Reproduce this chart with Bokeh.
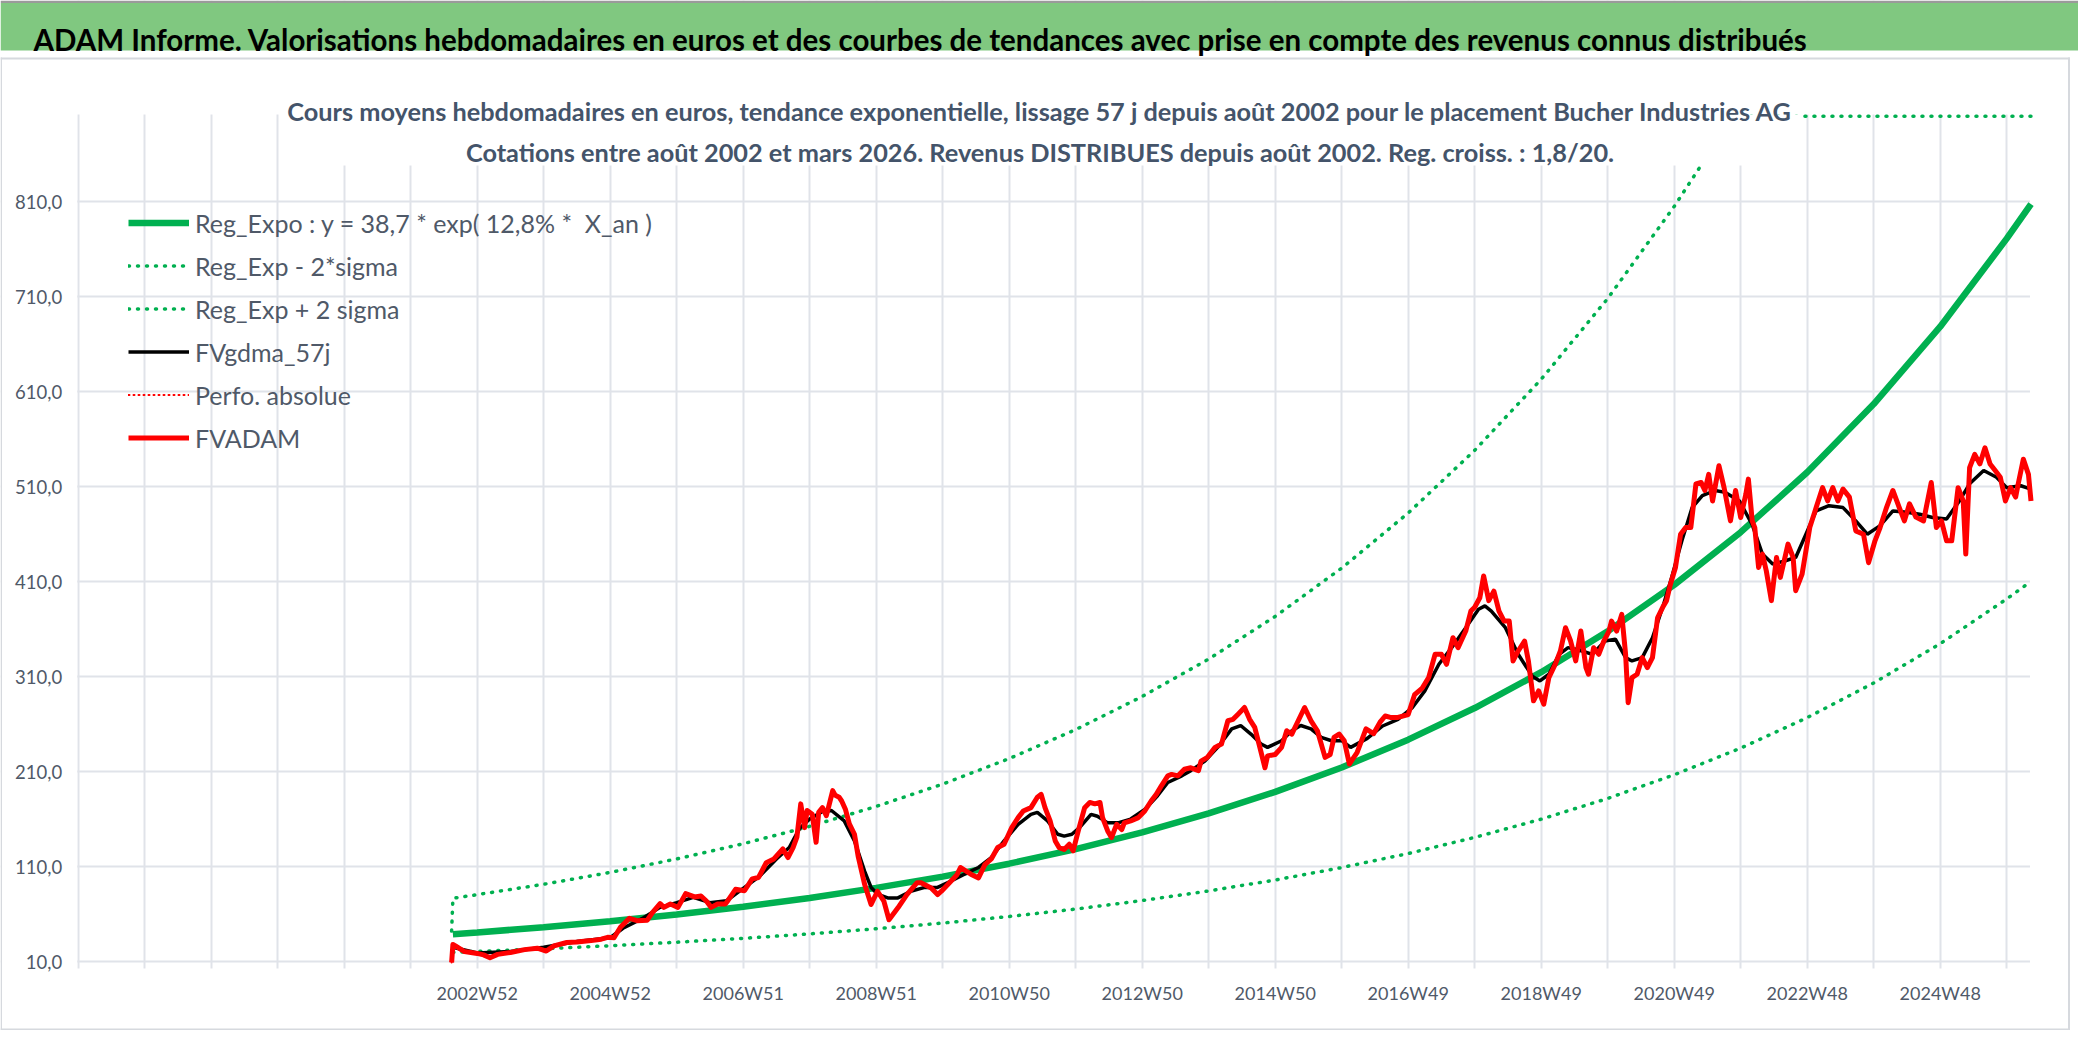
from bokeh.plotting import figure
from bokeh.models import Range1d, FixedTicker, Legend, LegendItem, Label, BoxAnnotation
from bokeh.core.properties import value
from bokeh.embed import file_html
from bokeh.resources import INLINE

# ---------------- texts ----------------
title_text = ("ADAM Informe. Valorisations hebdomadaires en euros et des courbes de tendances "
              "avec prise en compte des revenus connus distribués")
subtitle_1 = ("Cours moyens hebdomadaires en euros, tendance exponentielle, lissage 57 j depuis "
              "août 2002 pour le placement Bucher Industries AG")
subtitle_2 = ("Cotations entre août 2002 et mars 2026. Revenus DISTRIBUES depuis août 2002. "
              "Reg. croiss. : 1,8/20.")
legend_names = ["Reg_Expo : y = 38,7 * exp( 12,8% *  X_an )", "Reg_Exp - 2*sigma",
                "Reg_Exp + 2 sigma", "FVgdma_57j", "Perfo. absolue", "FVADAM"]

# ---------------- axis categories (week index of the category axis) ----------------
grid_weeks = list(range(0, 1509, 52))
label_weeks = [312, 416, 520, 624, 728, 832, 936, 1040, 1144, 1248, 1352, 1456]
week_labels = ["2002W52", "2004W52", "2006W51", "2008W51", "2010W50", "2012W50",
               "2014W50", "2016W49", "2018W49", "2020W49", "2022W48", "2024W48"]
y_ticks = [10, 110, 210, 310, 410, 510, 610, 710, 810]
y_tick_labels = ["10,0", "110,0", "210,0", "310,0", "410,0", "510,0", "610,0", "710,0", "810,0"]

# ---------------- series ----------------
trend_week = [293, 312, 364, 416, 468, 520, 572, 624, 676, 728, 780, 832, 884, 936, 988,
              1040, 1092, 1144, 1196, 1248, 1300, 1352, 1404, 1456, 1508, 1527]
trend_val = [38.7, 40.6, 46.1, 52.4, 59.6, 67.7, 76.9, 87.5, 99.4, 113.0, 128.4, 146.0, 165.9,
             188.6, 214.3, 243.6, 276.9, 314.7, 357.7, 406.6, 462.1, 525.2, 597.0, 678.5,
             771.2, 807.6]

lower_week = [293, 312, 364, 416, 468, 520, 572, 624, 676, 728, 780, 832, 884, 936, 988,
              1040, 1092, 1144, 1196, 1248, 1300, 1352, 1404, 1456, 1508, 1527]
lower_val = [19.7, 20.6, 23.4, 26.6, 30.3, 34.4, 39.1, 44.5, 50.5, 57.4, 65.2, 74.2, 84.3,
             95.8, 108.9, 123.7, 140.7, 159.9, 181.7, 206.6, 234.7, 266.8, 303.3, 344.7,
             391.8, 410.3]

upper_week = [292, 293, 312, 364, 416, 468, 520, 572, 624, 676, 728, 780, 832, 884, 936, 988,
              1040, 1092, 1144, 1196, 1248, 1294, 1300, 1352, 1404, 1456, 1508, 1527]
upper_val = [42, 76.6, 80.4, 91.3, 103.8, 118.0, 134.0, 152.3, 173.3, 196.8, 223.7, 254.2,
             289.1, 328.5, 373.4, 424.3, 482.3, 548.3, 623.1, 708.2, 805.1, 900, 900, 900,
             900, 900, 900, 900]

gdma_week = [293, 312, 338, 364, 390, 416, 426, 442, 455, 468, 481, 494, 507, 520, 533, 546,
             556, 564, 572, 582, 589, 599, 607, 615, 620, 625, 633, 641, 651, 662, 672, 683,
             693, 704, 714, 724, 735, 745, 750, 758, 766, 771, 777, 783, 792, 797, 805, 813,
             823, 834, 844, 852, 863, 870, 881, 891, 902, 909, 917, 925, 930, 941, 949, 956,
             964, 972, 980, 988, 995, 1008, 1020, 1032, 1043, 1053, 1064, 1074, 1085, 1095,
             1100, 1105, 1116, 1126, 1137, 1143, 1150, 1158, 1165, 1176, 1184, 1194, 1202,
             1210, 1215, 1223, 1231, 1239, 1246, 1254, 1262, 1270, 1280, 1288, 1299, 1309,
             1317, 1325, 1335, 1343, 1351, 1359, 1369, 1380, 1390, 1399, 1409, 1419, 1430,
             1440, 1450, 1461, 1471, 1479, 1490, 1500, 1508, 1519, 1527]
gdma_val = [25, 19, 20.5, 25, 31, 35, 45, 56, 67, 72, 77.5, 72, 74, 87, 100, 118,
            130, 150, 160, 168, 169, 158, 137, 105, 88, 81, 77, 77, 84, 88, 88, 95,
            102, 109, 119.5, 137, 154.5, 165, 167, 158, 144, 142, 144, 151, 165, 163, 156, 156,
            160, 170, 184.5, 198.5, 205.5, 211, 221, 235.5, 255, 258.5, 249.5, 239, 235.5, 242.5,
            253, 258.5, 255, 246, 242.5, 242.5, 235.5, 245, 258, 265, 277, 295, 323, 340.5,
            361.5, 381, 384.5, 379, 361.5, 333.5, 310.5, 305.5, 312.5, 333.5, 340.5, 337, 333.5,
            347.5, 349.5, 330, 326.5, 330, 351, 383, 414.5, 453, 488, 500.5, 506, 504, 495,
            470, 439, 428.5, 432, 435.5, 460, 484.5, 490, 488, 474, 460, 469, 484.5, 483, 481,
            477.5, 476, 495, 513, 527, 520, 509, 511, 507.5]

fv_week = [292, 293, 295, 302, 312, 317, 322, 328, 338, 349, 359, 366, 372, 382, 390, 401,
           409, 414, 419, 424, 431, 437, 445, 449, 455, 458, 463, 469, 475, 482, 487, 491,
           495, 500, 506, 508, 514, 521, 527, 532, 538, 544, 551, 555, 559, 562, 565, 568,
           570, 574, 577, 579, 582, 585, 587, 590, 592, 595, 597, 600, 603, 607, 610, 615,
           620, 625, 630, 634, 641, 648, 656, 659, 667, 672, 675, 680, 687, 690, 698, 704,
           709, 714, 719, 724, 730, 735, 739, 745, 750, 753, 756, 760, 764, 767, 771, 775,
           778, 782, 787, 791, 795, 799, 801, 805, 808, 812, 816, 818, 823, 829, 834, 839,
           843, 847, 852, 855, 860, 865, 870, 876, 878, 883, 889, 894, 899, 903, 907, 912,
           916, 920, 924, 928, 930, 936, 941, 945, 949, 954, 959, 964, 969, 975, 979, 982,
           986, 990, 994, 1000, 1007, 1013, 1018, 1022, 1026, 1032, 1040, 1045, 1051, 1056,
           1061, 1066, 1070, 1075, 1079, 1085, 1089, 1092, 1096, 1099, 1103, 1107, 1111, 1115,
           1119, 1122, 1126, 1131, 1134, 1138, 1142, 1146, 1150, 1155, 1159, 1163, 1167, 1171,
           1175, 1179, 1181, 1185, 1189, 1193, 1197, 1199, 1203, 1207, 1210, 1212, 1215, 1219,
           1223, 1227, 1231, 1235, 1239, 1242, 1245, 1249, 1253, 1257, 1261, 1265, 1269, 1272,
           1275, 1278, 1283, 1287, 1292, 1296, 1300, 1304, 1306, 1309, 1311, 1314, 1317, 1320,
           1324, 1328, 1331, 1337, 1341, 1343, 1348, 1354, 1359, 1364, 1368, 1372, 1376, 1380,
           1385, 1390, 1396, 1400, 1405, 1409, 1414, 1419, 1424, 1428, 1432, 1437, 1443, 1449,
           1453, 1457, 1461, 1465, 1470, 1474, 1476, 1479, 1483, 1487, 1491, 1495, 1499, 1503,
           1507, 1511, 1515, 1517, 1521, 1525, 1527]
fv_val = [9, 28, 26.5, 20.5, 18.5, 17, 14, 17.5, 19.5, 22.5, 24, 21, 26.5, 30, 30.5, 32,
          33.5, 35.5, 35, 46, 55.5, 53, 53.5, 61.5, 71, 67, 70.5, 67, 81.5, 78, 79, 74,
          67, 70.5, 70.5, 74, 86, 84.5, 97, 98.5, 114, 118, 128.5, 119.5, 130, 141, 176, 151,
          169, 165, 135.5, 167, 172, 163.5, 174, 190, 185, 183, 179, 170, 155, 144, 120, 91,
          70, 84, 73.5, 54, 66.5, 80.5, 93, 93, 87.5, 80.5, 84, 91, 101, 109, 102, 98,
          112, 118, 130, 133.5, 151, 161.5, 168.5, 172, 183, 186, 172, 158, 137, 130, 128, 133.5,
          126.5, 147.5, 172, 177.5, 176, 177.5, 161.5, 147.5, 140.5, 154.5, 149, 156, 158, 161.5, 168.5, 179,
          186, 195, 205.5, 207, 205.5, 212.5, 214, 211, 221, 225, 235.5, 239, 263.5, 265, 270.5, 277.5,
          265, 256.5, 235.5, 214, 226.5, 228, 235.5, 253, 249.5, 263.5, 277.5, 263.5, 253, 225, 228, 246,
          249.5, 242.5, 218, 230, 255, 250, 262, 268.5, 267, 267, 270, 291, 298, 309,
          333.5, 333.5, 323, 351, 340.5, 358, 379, 383, 393, 416, 390, 400, 379, 368.5,
          368.5, 326.5, 337, 347.5, 326.5, 284.5, 295, 281, 309, 323, 337, 361.5, 347.5, 326.5,
          358, 319.5, 312.5, 340.5, 333.5, 347.5, 358, 368.5, 358, 375.5, 333.5, 282.5, 309, 312.5,
          330, 319.5, 330, 372, 383, 390, 407, 425, 460, 467, 467, 513, 514.5, 506,
          523, 495, 532, 509, 474, 506, 477.5, 502, 518, 474, 467, 425, 439, 421.5,
          390, 435.5, 414.5, 449.5, 435.5, 400.5, 418, 467, 488, 509, 495, 509, 495, 507.5,
          499, 463.5, 460, 430, 453, 467, 488, 506, 488, 474, 492, 478, 474, 514.5,
          467, 474, 453, 453, 509, 495, 439, 530, 544, 534, 551, 534, 527, 520,
          495, 509, 499, 513, 539, 523, 495]

# "Perfo. absolue" lies exactly under FVADAM in the source chart
perfo_week = fv_week
perfo_val = fv_val

# ---------------- style / page geometry ----------------
FONT = "Lato"
GREEN_BAR = "#80C880"
GREEN = "#00B050"
GRID = "#E0E3E9"
BORDER = "#D6D9DE"
TXT = "#4F5968"
SUB = "#44546A"

W, H = 2078, 1030
PX_PER_WEEK = 66.5 / 52.0      # one vertical grid step (52 weeks) = 66.5 px
PX_PER_UNIT = 0.9496           # one euro on the value axis
X0_PAGE = 77.7                 # page x of week 0 (left edge of plot area)
Y10_PAGE = 961.0               # page y of value 10 (bottom of plot area)
TICK_END = 968                 # page y where the x tick marks end


def wx(px):
    return (px - X0_PAGE) / PX_PER_WEEK


def vy(py):
    return 10 + (Y10_PAGE - py) / PX_PER_UNIT


X_START, X_END = wx(0), wx(W)
Y_START, Y_END = vy(H), vy(0)

p = figure(width=W, height=H, x_range=Range1d(X_START, X_END), y_range=Range1d(Y_START, Y_END),
           toolbar_location=None, output_backend="svg", x_axis_location=None,
           y_axis_location=None, min_border=0,
           outline_line_color=None, background_fill_color="white", border_fill_color="white")

# grid (vertical grid lines continue below the value-10 line as tick marks)
p.xgrid.ticker = FixedTicker(ticks=grid_weeks)
p.ygrid.ticker = FixedTicker(ticks=y_ticks)
p.xgrid.grid_line_color = GRID
p.xgrid.grid_line_width = 2
p.ygrid.grid_line_color = GRID
p.ygrid.grid_line_width = 2

# white masks limiting the grid to the plot area (drawn right after the grid)
for l, r, b, t in [(X_START, -0.8, Y_START, Y_END), (1526.2, X_END, Y_START, Y_END),
                   (X_START, X_END, 902, Y_END), (X_START, X_END, Y_START, vy(TICK_END))]:
    p.add_layout(BoxAnnotation(left=l, right=r, bottom=b, top=t, fill_color="white",
                               fill_alpha=1.0, line_color=None, level="underlay"))

# chart-area border (left, right, bottom)
for l, r, b, t in [(wx(0), wx(1.5), vy(H), vy(57)), (wx(2067.5), wx(2069.5), vy(H), vy(57)),
                   (wx(0), wx(2069.5), vy(H), vy(1028))]:
    p.add_layout(BoxAnnotation(left=l, right=r, bottom=b, top=t, fill_color=BORDER,
                               fill_alpha=1.0, line_color=None, level="underlay"))

# series
r_trend = p.line(trend_week, trend_val, line_color=GREEN, line_width=6.5)
r_lower = p.line(lower_week, lower_val, line_color=GREEN, line_width=3.5, line_dash="1 8",
                 line_cap="round")
r_upper = p.line(upper_week, upper_val, line_color=GREEN, line_width=3.5, line_dash="1 8",
                 line_cap="round")
r_perfo = p.line(perfo_week, perfo_val, line_color="#FF0000", line_width=2, line_dash="1 4",
                 line_cap="round")
r_gdma = p.line(gdma_week, gdma_val, line_color="#000000", line_width=3.5)
r_fv = p.line(fv_week, fv_val, line_color="#FF0000", line_width=5, line_join="round")

# category (week) labels and value labels
p.text(x=label_weeks, y=[vy(992)] * len(label_weeks), text=week_labels, text_font=value(FONT),
       text_font_size=value("18px"), text_color=TXT, text_align="center",
       text_baseline="middle")
p.text(x=[wx(61.7)] * len(y_ticks), y=y_ticks, text=y_tick_labels, text_font=value(FONT),
       text_font_size=value("18.5px"), text_color=TXT, text_align="right",
       text_baseline="middle")

# header bar and borders
p.add_layout(BoxAnnotation(left=X_START, right=X_END, bottom=vy(50), top=vy(2.5),
                           fill_color=GREEN_BAR, fill_alpha=1.0, line_color=None))
p.add_layout(BoxAnnotation(left=X_START, right=X_END, bottom=vy(2.5), top=Y_END,
                           fill_color="#9A9A9A", fill_alpha=1.0, line_color=None))
p.add_layout(BoxAnnotation(left=X_START, right=wx(2069.5), bottom=vy(59), top=vy(57),
                           fill_color=BORDER, fill_alpha=1.0, line_color=None))
p.add_layout(Label(x=wx(33), y=vy(39), text=title_text, text_baseline="alphabetic",
                   text_align="left", text_font=FONT, text_font_size="29.5px",
                   text_font_style="bold", text_color="#000000"))

# white chart-title box overlapping the plot area (as in the source chart)
p.add_layout(BoxAnnotation(left=wx(282), right=wx(1800), bottom=vy(165), top=902,
                           fill_color="white", fill_alpha=1.0, line_color=None))
p.add_layout(Label(x=wx(1039.5), y=vy(110), text=subtitle_1, text_align="center",
                   text_baseline="alphabetic", text_font=FONT, text_font_size="25.3px",
                   text_font_style="bold", text_color=SUB))
p.add_layout(Label(x=wx(1039.5), y=vy(151), text=subtitle_2, text_align="center",
                   text_baseline="alphabetic", text_font=FONT, text_font_size="25.3px",
                   text_font_style="bold", text_color=SUB))

LEGEND_BOTTOM_PAGE = 454
legend = Legend(items=[LegendItem(label=legend_names[0], renderers=[r_trend]),
                       LegendItem(label=legend_names[1], renderers=[r_lower]),
                       LegendItem(label=legend_names[2], renderers=[r_upper]),
                       LegendItem(label=legend_names[3], renderers=[r_gdma]),
                       LegendItem(label=legend_names[4], renderers=[r_perfo]),
                       LegendItem(label=legend_names[5], renderers=[r_fv])],
                location=(128, H - LEGEND_BOTTOM_PAGE), orientation="vertical",
                label_text_font=FONT, label_text_font_size="25px", label_text_color=TXT,
                glyph_width=61, glyph_height=33, label_height=33, label_standoff=6,
                spacing=10, padding=0, margin=0, border_line_color=None,
                background_fill_alpha=0)
p.add_layout(legend)

open("out.html", "w").write(file_html(p, INLINE))
